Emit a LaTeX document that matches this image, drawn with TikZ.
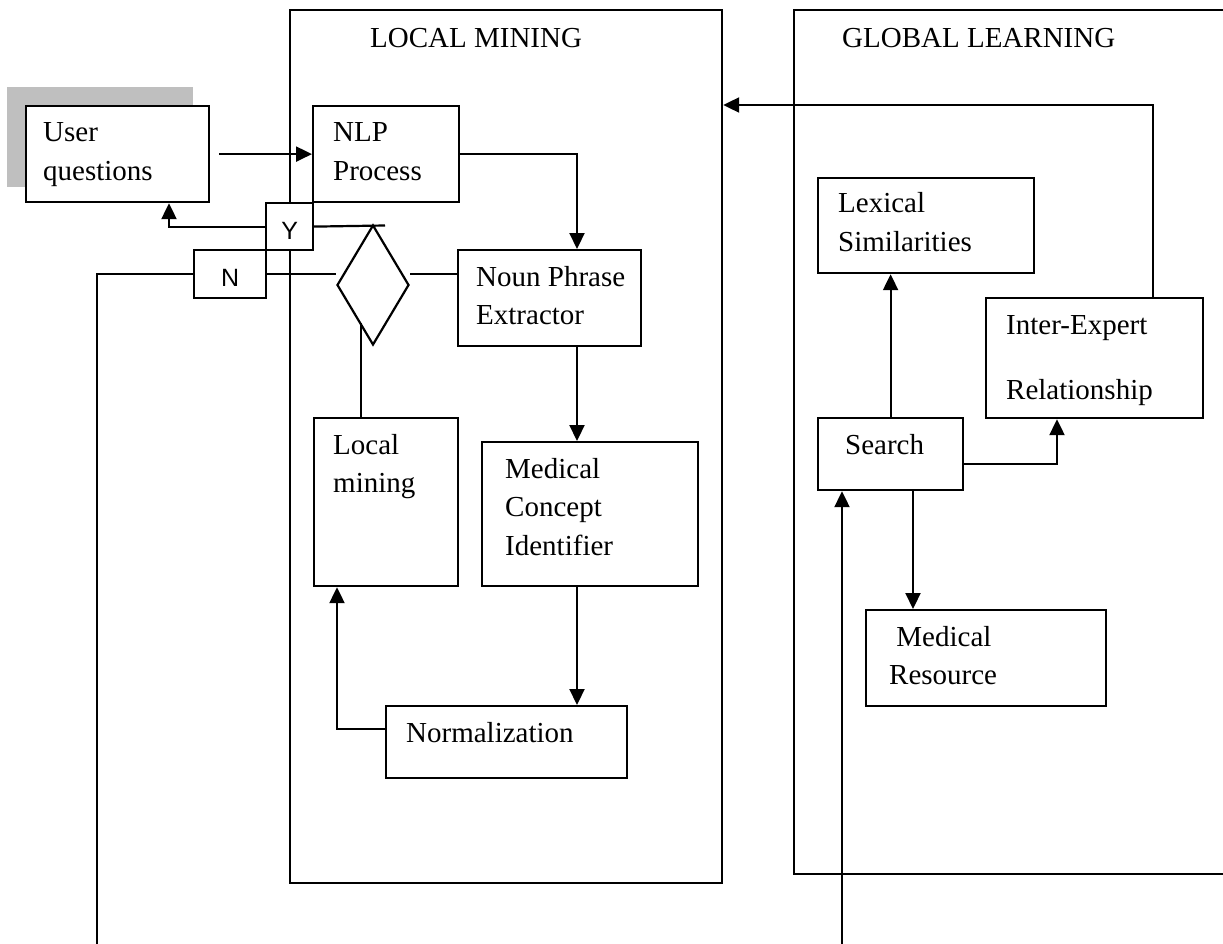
\documentclass[tikz,border=0pt]{standalone}
\usepackage{fontspec}
\setmainfont{Liberation Serif}
\newfontfamily\lsans{Liberation Sans}
\usetikzlibrary{arrows.meta,shapes.geometric,calc}
\definecolor{shadowgray}{HTML}{BFBFBF}
\newcommand\mybx[5]{\node[box,minimum width=#4pt,minimum height=#5pt] (#1) at (#2,#3) {};}
\newcommand\mytwo[2]{\vtop{\hbox{#1}\hbox{#2}}}
\newcommand\mythree[3]{\vtop{\hbox{#1}\hbox{#2}\hbox{#3}}}
\begin{document}
\begin{tikzpicture}[x=1pt,y=-1pt,
  box/.style={draw,line width=2.2pt,fill=white,inner sep=0pt,anchor=north west},
  frame/.style={box,fill=none},
  txt/.style={anchor=base west,inner sep=0pt,font=\fontsize{29}{38.5}\selectfont},
  yn/.style={box,font=\lsans\fontsize{25}{28}\selectfont,text height=25pt,text depth=0pt},
  ln/.style={line width=2.2pt},
  arr/.style={ln,-{Triangle[length=16pt,width=15pt]}},
]
\useasboundingbox (0,0) rectangle (1223,944);
% containers
\node[frame,minimum width=432pt,minimum height=873pt] (lmc) at (289,9) {};
\node[frame,minimum width=460pt,minimum height=864pt] (glc) at (793,9) {};
\node[txt] (lmcT) at (370,48) {LOCAL MINING};
\node[txt] (glcT) at (842,48) {GLOBAL LEARNING};
% user questions
\node[anchor=north west,inner sep=0pt,fill=shadowgray,minimum width=186pt,minimum height=100pt] (uqS) at (7,87) {};
\mybx{uq}{25}{105}{183}{96}
\node[txt] (uqT) at (43,142) {\mytwo{User}{questions}};
% local mining
\mybx{nlp}{312}{105}{146}{96}
\node[txt] (nlpT) at (333,142) {\mytwo{NLP}{Process}};
\node[yn,minimum width=47pt,minimum height=47pt] (Y) at (265,202) {Y};
\node[yn,minimum width=72pt,minimum height=48pt] (N) at (193,249) {N};
\node[draw,diamond,line width=2.2pt,minimum width=72pt,minimum height=120pt,inner sep=0pt] (dia) at (373,285) {};
\mybx{np}{457}{249}{183}{96}
\node[txt] (npT) at (476,286) {\mytwo{Noun Phrase}{Extractor}};
\mybx{lm}{313}{417}{144}{168}
\node[txt] (lmT) at (333,454) {\mytwo{Local}{mining}};
\mybx{mc}{481}{441}{216}{144}
\node[txt] (mcT) at (505,478) {\mythree{Medical}{Concept}{Identifier}};
\mybx{nrm}{385}{705}{241}{72}
\node[txt] (nrmT) at (406,742) {Normalization};
% global learning
\mybx{lex}{817}{177}{216}{95}
\node[txt] (lexT) at (838,213) {\mytwo{Lexical}{Similarities}};
\mybx{ie}{985}{297}{217}{120}
\node[txt] (ieT1) at (1006,334) {Inter-Expert};
\node[txt] (ieT2) at (1006,399) {Relationship};
\mybx{se}{817}{417}{145}{72}
\node[txt] (seT) at (845,454) {Search};
\mybx{mr}{865}{609}{240}{96}
\node[txt] (mrT) at (889,646) {\mytwo{\ Medical}{Resource}};
% helper coordinates
\coordinate (yend) at (385,225.5);
\coordinate (yx) at (169,0);
\coordinate (nb) at (97,950);
\coordinate (dl) at (361,323);
\coordinate (nl) at (337,729);
\coordinate (ax) at (577,0);
\coordinate (sy) at (0,464);
\coordinate (ix) at (1057,0);
\coordinate (sd) at (913,0);
\coordinate (bu) at (842,950);
\coordinate (it) at (1153,105);
% connectors
\draw[arr] ([xshift=9pt]uq.east) -- (nlp.west);
\draw[arr] (nlp.east) -| (ax |- np.north);
\draw[arr] (ax |- np.south) -- (ax |- mc.north);
\draw[arr] (ax |- mc.south) -- (ax |- nrm.north);
\draw[arr] (nl -| nrm.west) -- (nl) -- (nl |- lm.south);
\draw[ln] (lm.north -| dl) -- (dl);
\draw[ln] (Y.east) -- (yend);
\draw[arr] (Y.west) -| (yx |- uq.south);
\draw[ln] (N.west) -| (nb);
\draw[ln] (N.east) -- (N.east -| dia.west);
\draw[ln] (N.east -| dia.east) -- (N.east -| np.west);
\draw[arr] (se.north) -- (se.north |- lex.south);
\draw[arr] (se.east |- sy) -| (ix |- ie.south);
\draw[arr] (sd |- se.south) -- (sd |- mr.north);
\draw[arr] (bu) -- (bu |- se.south);
\draw[arr] (it |- ie.north) -- (it) -- (it -| lmc.east);
\end{tikzpicture}
\end{document}
